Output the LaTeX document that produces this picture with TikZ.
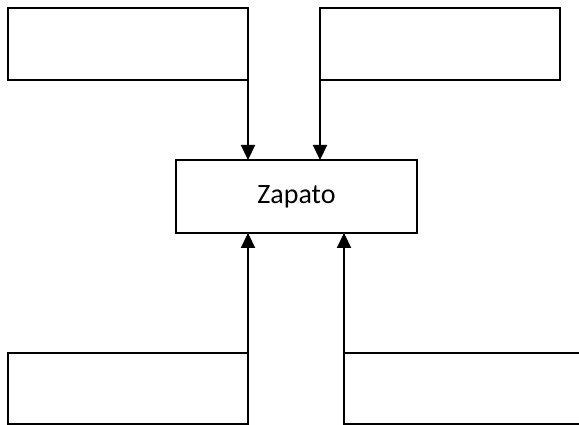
\documentclass[tikz,border=0pt]{standalone}
\usepackage{fontspec}
\setmainfont{Carlito}
\usetikzlibrary{arrows.meta}
\begin{document}
\begin{tikzpicture}[x=1pt,y=-1pt,
  box/.style={draw,line width=1.3pt,minimum width=240pt,minimum height=72pt,inner sep=0pt,outer sep=0pt},
  link/.style={line width=2.2pt,-{Triangle[width=14pt,length=15pt]}}]
\useasboundingbox (0,0) rectangle (579,425);
\clip (0,0) rectangle (579,425);
\node[box] (TL) at (128,44) {};
\node[box] (TR) at (440,44) {};
\node[box,minimum width=241pt,minimum height=73pt,font=\fontsize{28}{34}\selectfont] (Z) at (296.5,196.5) {Zapato};
\node[box,minimum height=71pt] (BL) at (128,388.5) {};
\node[box,minimum height=71pt] (BR) at (464,388.5) {};
\draw[link] (TL.east) -- (TL.east |- Z.north);
\draw[link] (TR.west) -- (TR.west |- Z.north);
\draw[link] (BL.north east) -- (BL.north east |- Z.south);
\draw[link] (BR.north west) -- (BR.north west |- Z.south);
\end{tikzpicture}
\end{document}
